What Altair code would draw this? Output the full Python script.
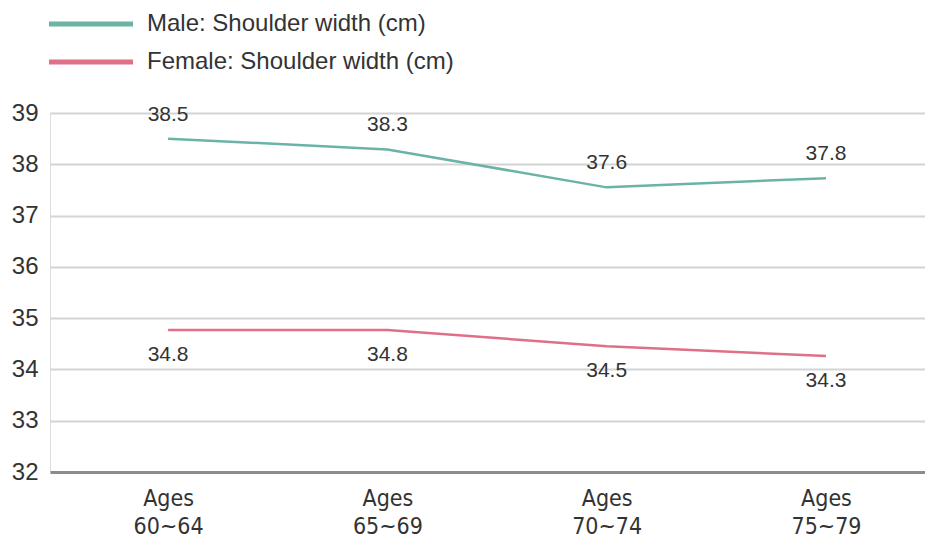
import altair as alt
import pandas as pd

ages = ["60~64", "65~69", "70~74", "75~79"]
male_values = [38.5, 38.29, 37.55, 37.73]
female_values = [34.77, 34.77, 34.45, 34.26]
male_labels = ["38.5", "38.3", "37.6", "37.8"]
female_labels = ["34.8", "34.8", "34.5", "34.3"]
series = ["Male: Shoulder width (cm)", "Female: Shoulder width (cm)"]
colors = ["#6bb3a5", "#df7087"]

rows = []
for a, v, l in zip(ages, male_values, male_labels):
    rows.append({"age": a, "value": v, "label": l, "series": series[0]})
for a, v, l in zip(ages, female_values, female_labels):
    rows.append({"age": a, "value": v, "label": l, "series": series[1]})
df = pd.DataFrame(rows)

FONT = "Liberation Sans, Arial, Helvetica, sans-serif"
NARROW = "Liberation Sans Narrow, DejaVu Sans Condensed, Roboto Condensed, Arial Narrow, Liberation Sans, sans-serif"

x = alt.X(
    "age:N",
    sort=ages,
    title=None,
    scale=alt.Scale(type="point", padding=0.495, align=0.544),
    axis=alt.Axis(
        labelExpr="['Ages', datum.value]",
        labelFont=NARROW,
        labelFontSize=23,
        labelLineHeight=28,
        labelColor="#333333",
        labelPadding=15,
        labelAngle=0,
        ticks=False,
        tickSize=0,
        domainColor="#8c8c8c",
        domainWidth=3,
        grid=False,
    ),
)
y = alt.Y(
    "value:Q",
    title=None,
    scale=alt.Scale(domain=[32, 39], nice=False, zero=False),
    axis=alt.Axis(
        values=[32, 33, 34, 35, 36, 37, 38, 39],
        labelFont=FONT,
        labelFontSize=24,
        labelColor="#333333",
        labelPadding=12,
        ticks=False,
        tickSize=0,
        domain=False,
        gridColor="#d4d4d4",
        gridWidth=2,
    ),
)
color = alt.Color(
    "series:N",
    sort=series,
    scale=alt.Scale(domain=series, range=colors),
    legend=alt.Legend(
        title=None,
        orient="none",
        legendX=28,
        legendY=-102,
        direction="vertical",
        symbolType="M-4,0L4,0",
        symbolSize=441,
        symbolStrokeWidth=5,
        labelFont=FONT,
        labelFontSize=24,
        labelColor="#333333",
        labelOffset=43,
        rowPadding=13,
        labelLimit=400,
    ),
)

lines = alt.Chart(df).mark_line(strokeWidth=2.5).encode(x=x, y=y, color=color)
male_text = alt.Chart(df).transform_filter(alt.datum.series == series[0]).mark_text(
    font=FONT, fontSize=21, color="#333333", dy=-24
).encode(x=x, y=y, text="label:N")
female_text = alt.Chart(df).transform_filter(alt.datum.series == series[1]).mark_text(
    font=FONT, fontSize=21, color="#333333", dy=25
).encode(x=x, y=y, text="label:N")

chart = (
    alt.layer(lines, male_text, female_text)
    .properties(
        width=875,
        height=359,
        autosize=alt.AutoSizeParams(type="none"),
        padding={"left": 42, "top": 105, "right": 0, "bottom": 67},
    )
    .configure_view(stroke=None)
    .configure(background="white")
)

chart.save("out.html", embed_options={"renderer": "svg", "actions": False})
